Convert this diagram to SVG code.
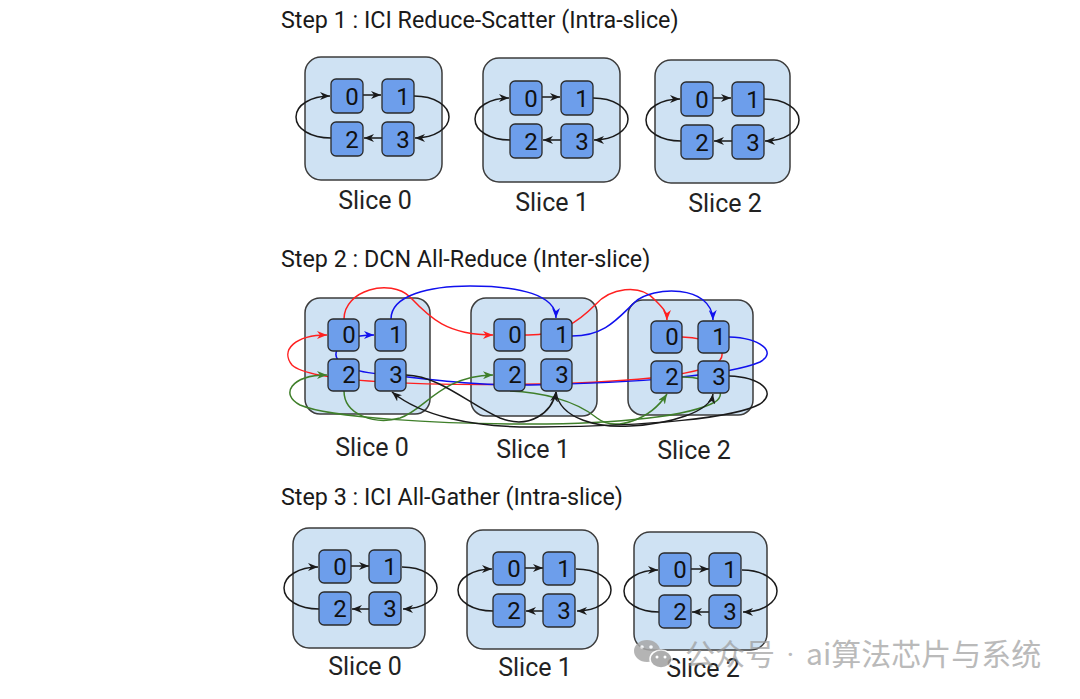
<svg xmlns="http://www.w3.org/2000/svg" width="1080" height="699" viewBox="0 0 1080 699">
<style>
.title{font-family:Roboto,"Liberation Sans",sans-serif;font-size:23.3px;fill:#1a1a1a}
.lbl{font-family:Roboto,"Liberation Sans",sans-serif;font-size:25px;fill:#222;text-anchor:middle}
.box{fill:#cfe2f3;stroke:#3c3c3c;stroke-width:1.5}
.chip{fill:#6d9eeb;stroke:#2a2a2a;stroke-width:1.3}
.dig{font-family:Roboto,"Liberation Sans",sans-serif;font-size:24px;fill:#111;text-anchor:middle}
.k{fill:none;stroke:#1a1a1a;stroke-width:1.5}
.r{fill:none;stroke:#ff2020;stroke-width:1.5}
.b{fill:none;stroke:#1010ee;stroke-width:1.5}
.g{fill:none;stroke:#3f7f2a;stroke-width:1.5}
.wm{font-family:"Noto Sans CJK SC",sans-serif;font-size:30px;fill:#9a9a9a;opacity:0.8}
.dot{font-family:Roboto,"Liberation Sans",sans-serif}
</style>
<defs>
<marker id="ak" markerUnits="userSpaceOnUse" markerWidth="10" markerHeight="8" refX="10" refY="4" orient="auto"><path d="M0,0 L10,4 L0,8 L3,4 Z" fill="#1a1a1a"/></marker>
<marker id="ar" markerUnits="userSpaceOnUse" markerWidth="10" markerHeight="8" refX="10" refY="4" orient="auto"><path d="M0,0 L10,4 L0,8 L3,4 Z" fill="#ff2020"/></marker>
<marker id="ab" markerUnits="userSpaceOnUse" markerWidth="10" markerHeight="8" refX="10" refY="4" orient="auto"><path d="M0,0 L10,4 L0,8 L3,4 Z" fill="#1010ee"/></marker>
<marker id="ag" markerUnits="userSpaceOnUse" markerWidth="10" markerHeight="8" refX="10" refY="4" orient="auto"><path d="M0,0 L10,4 L0,8 L3,4 Z" fill="#3f7f2a"/></marker>
<g id="ring">
<path class="k" d="M58,38 L76,38" marker-end="url(#ak)"/>
<path class="k" d="M77,81 L59,81" marker-end="url(#ak)"/>
<path class="k" d="M26,81 C6,81 -9,72 -9,60 C-9,48 6,39 25,39" marker-end="url(#ak)"/>
<path class="k" d="M109,39 C130,39 144,49 144,60 C144,71 130,81 110,81" marker-end="url(#ak)"/>
</g>
</defs>
<rect width="1080" height="699" fill="#ffffff"/>

<text class="title" x="281" y="28">Step 1 : ICI Reduce-Scatter (Intra-slice)</text>
<text class="title" x="281" y="267">Step 2 : DCN All-Reduce (Inter-slice)</text>
<text class="title" x="281" y="505">Step 3 : ICI All-Gather (Intra-slice)</text>

<!-- Step 1 slices -->
<g id="s1-slice0"><rect class="box" x="305" y="57" width="137" height="123" rx="16"/><text class="lbl" x="375" y="209">Slice 0</text></g>
<g id="s1-slice1"><rect class="box" x="483" y="58" width="137" height="124" rx="16"/><text class="lbl" x="552" y="211">Slice 1</text></g>
<g id="s1-slice2"><rect class="box" x="655" y="60" width="135" height="123" rx="16"/><text class="lbl" x="725" y="212">Slice 2</text></g>

<!-- Step 2 slices -->
<g id="s2-slice0"><rect class="box" x="305" y="298" width="125" height="116" rx="15"/><text class="lbl" x="372" y="456">Slice 0</text></g>
<g id="s2-slice1"><rect class="box" x="471" y="298" width="126" height="118" rx="15"/><text class="lbl" x="533" y="458">Slice 1</text></g>
<g id="s2-slice2"><rect class="box" x="628" y="300" width="125" height="115" rx="15"/><text class="lbl" x="694" y="459">Slice 2</text></g>

<!-- Step 3 slices -->
<g id="s3-slice0"><rect class="box" x="293" y="528" width="132" height="120" rx="16"/><text class="lbl" x="365" y="675">Slice 0</text></g>
<g id="s3-slice1"><rect class="box" x="467" y="530" width="131" height="119" rx="16"/><text class="lbl" x="535" y="676">Slice 1</text></g>
<g id="s3-slice2"><rect class="box" x="634" y="532" width="133" height="118" rx="16"/><text class="lbl" x="703" y="677">Slice 2</text></g>

<!-- Connectors -->
<g id="connectors">
<use href="#ring" transform="translate(305,57)"/>
<use href="#ring" transform="translate(484,59)"/>
<use href="#ring" transform="translate(655,60)"/>
<use href="#ring" transform="translate(293,528)"/>
<use href="#ring" transform="translate(467,530)"/>
<use href="#ring" transform="translate(633,531)"/>

<path class="r" d="M344,319 C344,290 390,278 410,297 C430,318 447,335 493,335" marker-end="url(#ar)"/>
<path class="r" d="M525,335 C560,336 580,320 595,305 C610,288 640,283 655,300 C663,308 667,312 667,320" marker-end="url(#ar)"/>
<path class="r" d="M682,337 C712,338 728,350 720,360 C708,374 640,382 540,384 C420,386 310,382 292,365 C280,350 295,335 327,335" marker-end="url(#ar)"/>

<path class="b" d="M391,319 C391,295 430,286 470,286 C520,286 556,295 556,318" marker-end="url(#ab)"/>
<path class="b" d="M572,336 C605,336 618,318 635,302 C652,286 712,284 713,320" marker-end="url(#ab)"/>
<path class="b" d="M729,337 C760,338 778,352 760,362 C730,375 640,383 530,385 C470,386 420,378 380,374 C345,371 332,360 337,350 C341,340 355,335 374,335" marker-end="url(#ab)"/>

<path class="g" d="M344,391 C344,415 375,425 400,418 C425,410 440,376 493,375" marker-end="url(#ag)"/>
<path class="g" d="M510,391 C540,392 575,400 597,418 C615,432 650,420 667,394" marker-end="url(#ag)"/>
<path class="g" d="M682,377 C712,377 730,392 715,402 C690,416 620,424 530,424 C440,424 330,418 300,405 C280,395 290,375 327,375" marker-end="url(#ag)"/>

<path class="k" d="M406,375 C440,376 470,405 500,418 C530,430 552,412 556,392" marker-end="url(#ak)"/>
<path class="k" d="M556,392 C560,420 600,428 630,426 C670,424 710,412 713,394" marker-end="url(#ak)"/>
<path class="k" d="M729,376 C760,377 778,392 760,404 C735,418 650,426 540,427 C470,428 420,415 392,392" marker-end="url(#ak)"/>
</g>

<!-- Step 1 chips -->
<g id="s1-s0-c0"><rect class="chip" x="331" y="79" width="32" height="34" rx="5"/><text class="dig" x="352" y="105">0</text></g>
<g id="s1-s0-c1"><rect class="chip" x="382" y="79" width="32" height="34" rx="5"/><text class="dig" x="403" y="105">1</text></g>
<g id="s1-s0-c2"><rect class="chip" x="331" y="122" width="32" height="34" rx="5"/><text class="dig" x="352" y="148">2</text></g>
<g id="s1-s0-c3"><rect class="chip" x="382" y="122" width="32" height="34" rx="5"/><text class="dig" x="403" y="148">3</text></g>

<g id="s1-s1-c0"><rect class="chip" x="510" y="81" width="32" height="34" rx="5"/><text class="dig" x="531" y="107">0</text></g>
<g id="s1-s1-c1"><rect class="chip" x="561" y="81" width="32" height="34" rx="5"/><text class="dig" x="582" y="107">1</text></g>
<g id="s1-s1-c2"><rect class="chip" x="510" y="124" width="32" height="34" rx="5"/><text class="dig" x="531" y="150">2</text></g>
<g id="s1-s1-c3"><rect class="chip" x="561" y="124" width="32" height="34" rx="5"/><text class="dig" x="582" y="150">3</text></g>

<g id="s1-s2-c0"><rect class="chip" x="681" y="82" width="32" height="34" rx="5"/><text class="dig" x="702" y="108">0</text></g>
<g id="s1-s2-c1"><rect class="chip" x="732" y="82" width="32" height="34" rx="5"/><text class="dig" x="753" y="108">1</text></g>
<g id="s1-s2-c2"><rect class="chip" x="681" y="125" width="32" height="34" rx="5"/><text class="dig" x="702" y="151">2</text></g>
<g id="s1-s2-c3"><rect class="chip" x="732" y="125" width="32" height="34" rx="5"/><text class="dig" x="753" y="151">3</text></g>

<!-- Step 2 chips -->
<g id="s2-s0-c0"><rect class="chip" x="328" y="319" width="31" height="32" rx="5"/><text class="dig" x="349" y="343">0</text></g>
<g id="s2-s0-c1"><rect class="chip" x="375" y="319" width="31" height="32" rx="5"/><text class="dig" x="396" y="343">1</text></g>
<g id="s2-s0-c2"><rect class="chip" x="328" y="359" width="31" height="32" rx="5"/><text class="dig" x="349" y="383">2</text></g>
<g id="s2-s0-c3"><rect class="chip" x="375" y="359" width="31" height="32" rx="5"/><text class="dig" x="396" y="383">3</text></g>

<g id="s2-s1-c0"><rect class="chip" x="494" y="319" width="31" height="32" rx="5"/><text class="dig" x="515" y="343">0</text></g>
<g id="s2-s1-c1"><rect class="chip" x="541" y="319" width="31" height="32" rx="5"/><text class="dig" x="562" y="343">1</text></g>
<g id="s2-s1-c2"><rect class="chip" x="494" y="359" width="31" height="32" rx="5"/><text class="dig" x="515" y="383">2</text></g>
<g id="s2-s1-c3"><rect class="chip" x="541" y="359" width="31" height="32" rx="5"/><text class="dig" x="562" y="383">3</text></g>

<g id="s2-s2-c0"><rect class="chip" x="651" y="321" width="31" height="32" rx="5"/><text class="dig" x="672" y="345">0</text></g>
<g id="s2-s2-c1"><rect class="chip" x="698" y="321" width="31" height="32" rx="5"/><text class="dig" x="719" y="345">1</text></g>
<g id="s2-s2-c2"><rect class="chip" x="651" y="361" width="31" height="32" rx="5"/><text class="dig" x="672" y="385">2</text></g>
<g id="s2-s2-c3"><rect class="chip" x="698" y="361" width="31" height="32" rx="5"/><text class="dig" x="719" y="385">3</text></g>

<!-- Step 3 chips -->
<g id="s3-s0-c0"><rect class="chip" x="319" y="550" width="32" height="33" rx="5"/><text class="dig" x="340" y="575">0</text></g>
<g id="s3-s0-c1"><rect class="chip" x="369" y="550" width="32" height="33" rx="5"/><text class="dig" x="390" y="575">1</text></g>
<g id="s3-s0-c2"><rect class="chip" x="319" y="592" width="32" height="33" rx="5"/><text class="dig" x="340" y="617">2</text></g>
<g id="s3-s0-c3"><rect class="chip" x="369" y="592" width="32" height="33" rx="5"/><text class="dig" x="390" y="617">3</text></g>

<g id="s3-s1-c0"><rect class="chip" x="493" y="552" width="32" height="33" rx="5"/><text class="dig" x="514" y="577">0</text></g>
<g id="s3-s1-c1"><rect class="chip" x="543" y="552" width="32" height="33" rx="5"/><text class="dig" x="564" y="577">1</text></g>
<g id="s3-s1-c2"><rect class="chip" x="493" y="594" width="32" height="33" rx="5"/><text class="dig" x="514" y="619">2</text></g>
<g id="s3-s1-c3"><rect class="chip" x="543" y="594" width="32" height="33" rx="5"/><text class="dig" x="564" y="619">3</text></g>

<g id="s3-s2-c0"><rect class="chip" x="659" y="553" width="32" height="33" rx="5"/><text class="dig" x="680" y="578">0</text></g>
<g id="s3-s2-c1"><rect class="chip" x="709" y="553" width="32" height="33" rx="5"/><text class="dig" x="730" y="578">1</text></g>
<g id="s3-s2-c2"><rect class="chip" x="659" y="595" width="32" height="33" rx="5"/><text class="dig" x="680" y="620">2</text></g>
<g id="s3-s2-c3"><rect class="chip" x="709" y="595" width="32" height="33" rx="5"/><text class="dig" x="730" y="620">3</text></g>

<!-- Watermark -->
<g id="watermark" opacity="0.85">
<ellipse cx="647" cy="651" rx="13" ry="11" fill="#a8a8a8"/>
<ellipse cx="661" cy="659" rx="11" ry="9" fill="#a0a0a0" stroke="#ffffff" stroke-width="1.5"/>
<circle cx="642" cy="647" r="1.8" fill="#fff"/><circle cx="651" cy="647" r="1.8" fill="#fff"/>
<circle cx="657" cy="657" r="1.5" fill="#fff"/><circle cx="665" cy="657" r="1.5" fill="#fff"/>
<text class="wm" y="665"><tspan x="685">公众号</tspan><tspan class="dot" x="779"> · </tspan><tspan x="806">ai算法芯片与系统</tspan></text>
</g>
</svg>
